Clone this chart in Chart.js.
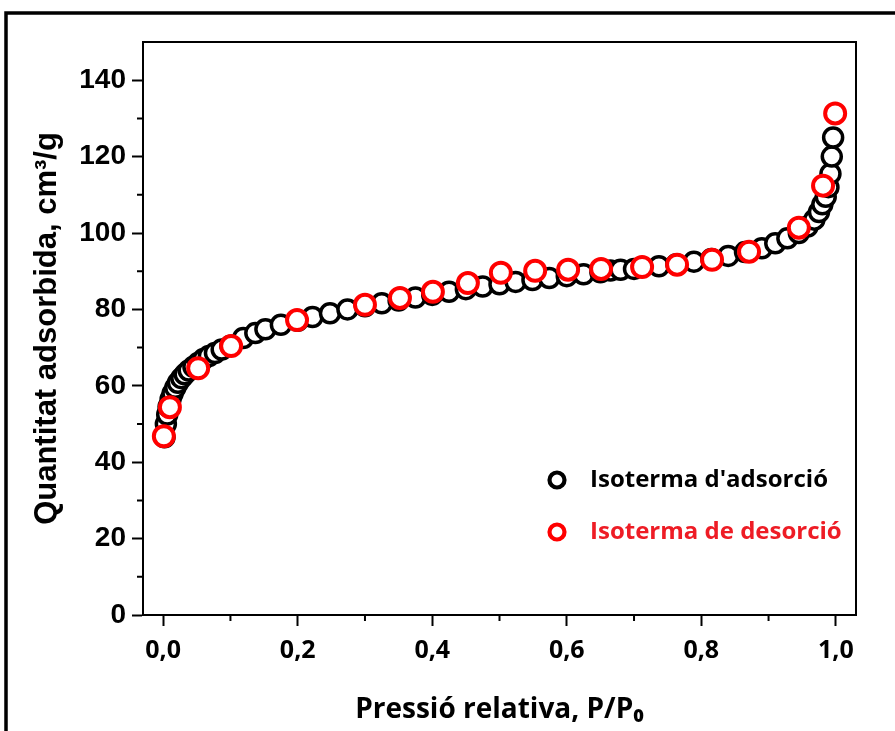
<!DOCTYPE html>
<html>
<head>
<meta charset="utf-8">
<script src="https://cdn.jsdelivr.net/npm/chart.js@4/dist/chart.umd.min.js"></script>
<style>
html,body{margin:0;padding:0;background:#fff;}
#wrap{position:relative;width:895px;height:731px;}
</style>
</head>
<body>
<div id="wrap"><canvas id="c" width="895" height="731"></canvas></div>
<script>
// ---- Data ----
const adsorptionP = [0.002,0.004,0.006,0.008,0.011,0.014,0.018,0.022,0.027,0.032,0.038,0.045,0.052,0.060,0.068,0.077,0.087,0.100,0.119,0.137,0.152,0.175,0.200,0.222,0.248,0.274,0.300,0.325,0.350,0.375,0.400,0.425,0.450,0.475,0.500,0.524,0.549,0.574,0.600,0.625,0.650,0.665,0.680,0.700,0.737,0.763,0.789,0.815,0.840,0.865,0.890,0.910,0.928,0.945,0.958,0.968,0.975,0.980,0.985,0.989,0.992,0.994,0.996];
const adsorptionQ = [46.5,50.0,52.5,54.5,56.5,58.0,59.5,60.8,62.0,63.0,64.0,65.0,66.0,67.0,67.8,68.6,69.5,70.5,72.5,73.8,74.8,76.0,77.0,78.0,79.0,80.0,80.8,81.6,82.3,83.1,83.8,84.6,85.3,86.0,86.6,87.2,87.7,88.2,88.7,89.2,89.7,90.2,90.4,90.6,91.3,91.8,92.5,93.2,94.0,95.0,96.0,97.3,98.6,100.0,101.7,103.5,105.5,107.5,109.5,112.0,115.5,120.0,125.0];
const desorptionP = [0.999,0.981,0.945,0.871,0.816,0.764,0.712,0.651,0.602,0.553,0.502,0.453,0.401,0.352,0.300,0.199,0.101,0.052,0.010,0.001];
const desorptionQ = [131.3,112.4,101.4,95.1,93.0,91.7,91.1,90.6,90.4,90.1,89.6,86.9,84.6,83.0,81.2,77.2,70.4,64.6,54.4,46.8];
const xTicks = [0,0.2,0.4,0.6,0.8,1.0];
const xMinorTicks = [0.1,0.3,0.5,0.7,0.9];
const yTicks = [0,20,40,60,80,100,120,140];
const yMinorTicks = [10,30,50,70,90,110,130];
const seriesNames = ["Isoterma d'adsorció","Isoterma de desorció"];
const xTitle = "Pressió relativa, P/P₀";
const yTitle = "Quantitat adsorbida, cm³/g";

const toPts = (xs, ys) => xs.map((x, i) => ({x: x, y: ys[i]}));
const fmt = v => v.toFixed(1).replace('.', ',');

const framePlugin = {
  id: 'frame',
  beforeDraw(chart) {
    const ctx = chart.ctx;
    ctx.save();
    ctx.strokeStyle = '#000';
    ctx.lineWidth = 3.5;
    ctx.strokeRect(6, 13, 1000, 1000);
    ctx.restore();
  },
  afterDatasetsDraw(chart) {
    const ctx = chart.ctx;
    const a = chart.chartArea;
    const xs = chart.scales.x, ys = chart.scales.y;
    ctx.save();
    ctx.strokeStyle = '#000';
    ctx.lineWidth = 2;
    ctx.strokeRect(a.left, a.top, a.right - a.left, a.bottom - a.top);
    // minor ticks
    ctx.lineWidth = 2;
    ctx.beginPath();
    xMinorTicks.forEach(v => {
      const px = xs.getPixelForValue(v);
      ctx.moveTo(px, a.bottom); ctx.lineTo(px, a.bottom + 6);
    });
    yMinorTicks.forEach(v => {
      const py = ys.getPixelForValue(v);
      ctx.moveTo(a.left, py); ctx.lineTo(a.left - 6, py);
    });
    ctx.stroke();
    // legend
    const ds = chart.data.datasets;
    const lx = a.left + 414;
    const rows = [a.top + 438, a.top + 490];
    const colors = ['#000000', '#ee1c25'];
    ctx.font = '700 24px "Open Sans", sans-serif';
    ctx.textBaseline = 'middle';
    ds.forEach((d, i) => {
      ctx.beginPath();
      ctx.arc(lx, rows[i], 7.5, 0, Math.PI * 2);
      ctx.fillStyle = '#fff';
      ctx.fill();
      ctx.lineWidth = 4.2;
      ctx.strokeStyle = d.borderColor;
      ctx.stroke();
      ctx.fillStyle = colors[i];
      ctx.textAlign = 'left';
      ctx.fillText(d.label, lx + 33, rows[i]);
    });
    ctx.restore();
  }
};

new Chart(document.getElementById('c'), {
  type: 'scatter',
  data: {
    datasets: [
      {
        label: seriesNames[0],
        data: toPts(adsorptionP, adsorptionQ),
        borderColor: '#000000',
        backgroundColor: '#ffffff',
        pointRadius: 9.5,
        pointBorderWidth: 3.5,
        showLine: false,
        order: 2,
        clip: false
      },
      {
        label: seriesNames[1],
        data: toPts(desorptionP, desorptionQ),
        borderColor: '#ff0000',
        backgroundColor: '#ffffff',
        pointRadius: 10,
        pointBorderWidth: 4,
        showLine: false,
        order: 1,
        clip: false
      }
    ]
  },
  options: {
    responsive: false,
    animation: false,
    layout: {padding: {left: 0, top: 42, right: 39, bottom: 0}},
    plugins: {legend: {display: false}, tooltip: {enabled: false}},
    scales: {
      x: {
        type: 'linear',
        min: -0.03, max: 1.03,
        afterBuildTicks: s => { s.ticks = xTicks.map(v => ({value: v})); },
        afterFit: s => { s.height = 116; },
        ticks: {
          callback: v => fmt(v),
          color: '#000',
          font: {family: '"Open Sans", sans-serif', size: 25, weight: '700'},
          padding: 10,
          maxRotation: 0,
          autoSkip: false
        },
        grid: {drawOnChartArea: false, tickLength: 11, tickWidth: 2, tickColor: '#000'},
        border: {color: '#000', width: 2},
        title: {
          display: true,
          text: xTitle,
          color: '#000',
          font: {family: '"Open Sans", sans-serif', size: 28, weight: '700'},
          padding: {top: 0, bottom: 4}
        }
      },
      y: {
        type: 'linear',
        min: 0, max: 150,
        afterBuildTicks: s => { s.ticks = yTicks.map(v => ({value: v})); },
        afterFit: s => { s.width = 143; },
        ticks: {
          color: '#000',
          font: {family: '"Liberation Sans", Arial, sans-serif', size: 28, weight: 'bold'},
          padding: 6,
          autoSkip: false
        },
        grid: {drawOnChartArea: false, tickLength: 11, tickWidth: 2, tickColor: '#000'},
        border: {color: '#000', width: 2},
        title: {
          display: true,
          text: yTitle,
          color: '#000',
          font: {family: '"Liberation Sans", Arial, sans-serif', size: 31, weight: 'bold'},
          padding: {top: 29, bottom: 0}
        }
      }
    }
  },
  plugins: [framePlugin]
});
</script>
</body>
</html>
